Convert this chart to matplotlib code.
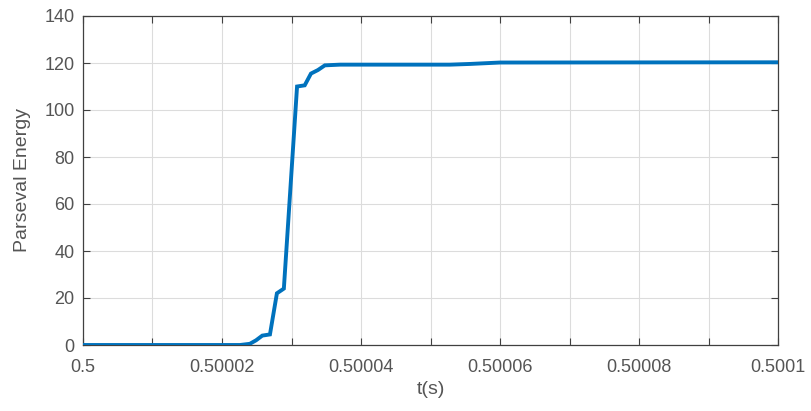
import matplotlib
matplotlib.use("Agg")
import matplotlib.pyplot as plt
import numpy as np

# time offsets in microseconds from t = 0.5 s
t_us = [0.0, 22.6, 24.0, 24.9, 25.8, 26.9, 27.9, 28.9, 30.8, 31.9, 32.8, 33.8, 34.8, 37.0, 52.8, 55.7, 60.0, 100.0]
energy = [0.0, 0.0, 0.5, 2.0, 4.0, 4.5, 22.0, 24.0, 110.0, 110.5, 115.5, 117.0, 119.0, 119.3, 119.3, 119.6, 120.2, 120.3]

x_ticks = [0.5, 0.50002, 0.50004, 0.50006, 0.50008, 0.5001]
x_tick_labels = ["0.5", "0.50002", "0.50004", "0.50006", "0.50008", "0.5001"]
y_ticks = [0, 20, 40, 60, 80, 100, 120, 140]

plt.rcParams['font.family'] = ['Liberation Sans', 'DejaVu Sans']

t = 0.5 + np.array(t_us) * 1e-6

fig = plt.figure(figsize=(8.12, 4.11), dpi=100)
ax = fig.add_axes([83/812, 1 - 345/411, (778-83)/812, (345-16)/411])
ax.plot(t, energy, color='#0072BD', lw=2.8, solid_joinstyle='miter', zorder=3)

ax.set_xlim(0.5, 0.5001)
ax.set_ylim(0, 140)
ax.set_xticks(x_ticks)
ax.set_xticklabels(x_tick_labels)
ax.set_xticks(0.5 + np.arange(10e-6, 100e-6, 20e-6), minor=True)
ax.set_yticks(y_ticks)

ax.grid(True, which='both', color='#dcdcdc', lw=0.8)
ax.set_axisbelow(True)
ax.tick_params(which='both', direction='in', top=True, right=True, length=5,
               colors='#404040', labelsize=13, labelcolor='#555555', width=0.8)
ax.tick_params(axis='x', pad=10)
ax.tick_params(axis='y', pad=6)
for s in ax.spines.values():
    s.set_color('#404040')
    s.set_linewidth(0.9)

ax.set_xlabel('t(s)', fontsize=14, color='#555555', labelpad=4)
ax.set_ylabel('Parseval Energy', fontsize=14, color='#555555', labelpad=10)

fig.savefig('out.png', dpi=100)
